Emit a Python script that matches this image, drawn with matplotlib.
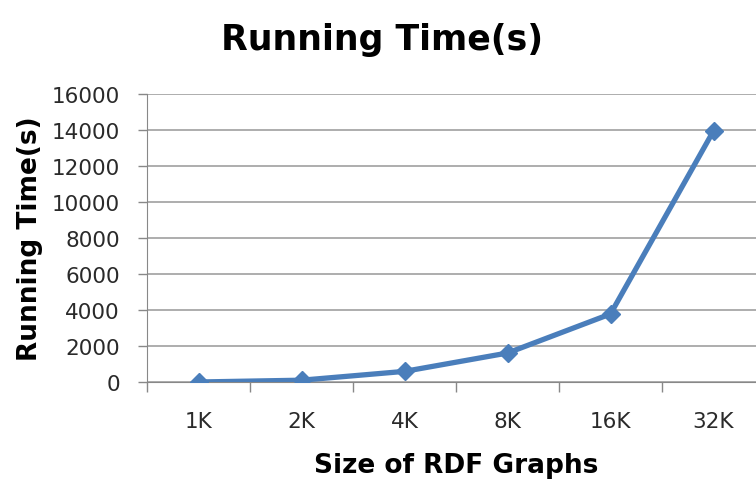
from matplotlib import pyplot as plt
import numpy as np

# Chart data
sizes = ["1K", "2K", "4K", "8K", "16K", "32K"]
running_time = [0, 100, 590, 1610, 3780, 13950]
y_ticks = [0, 2000, 4000, 6000, 8000, 10000, 12000, 14000, 16000]

plt.rcParams['font.family'] = ['DejaVu Sans']

fig = plt.figure(figsize=(7.56, 4.81), dpi=100)
ax = fig.add_axes([147 / 756, 98 / 481, 618 / 756, 288 / 481])

x = np.arange(len(sizes))
ax.plot(x, running_time, color="#4a7ebb", linewidth=3.8, marker="D",
        markersize=9, markeredgecolor="#4a7ebb", zorder=3)

ax.set_xlim(-0.5, len(sizes) - 0.5)
ax.set_ylim(0, 16000)
ax.set_yticks(y_ticks)
ax.set_yticklabels([str(v) for v in y_ticks], fontsize=15.5, color="#2a2a2a")
ax.set_xticks(x)
ax.set_xticklabels(sizes, fontsize=15.5, color="#2a2a2a")
ax.set_xticks(np.arange(-0.5, len(sizes)), minor=True)

ax.tick_params(axis="x", which="major", length=0, pad=21)
ax.tick_params(axis="x", which="minor", length=7, color="#888888", width=1)
ax.tick_params(axis="y", length=6.5, color="#888888", width=1, pad=13)

ax.grid(axis="y", color="#a0a0a0", linewidth=1.2)
ax.set_axisbelow(True)
for side in ["top", "right"]:
    ax.spines[side].set_visible(False)
ax.spines["left"].set_color("#888888")
ax.spines["bottom"].set_color("#888888")

ax.set_xlabel("Size of RDF Graphs", fontsize=19, fontweight="bold", labelpad=15)
ax.set_ylabel("Running Time(s)", fontsize=19, fontweight="bold", labelpad=6)
fig.text(382 / 756, 1 - 40 / 481, "Running Time(s)", ha="center", va="center",
         fontsize=25, fontweight="bold")

fig.savefig("out.png", dpi=100)
